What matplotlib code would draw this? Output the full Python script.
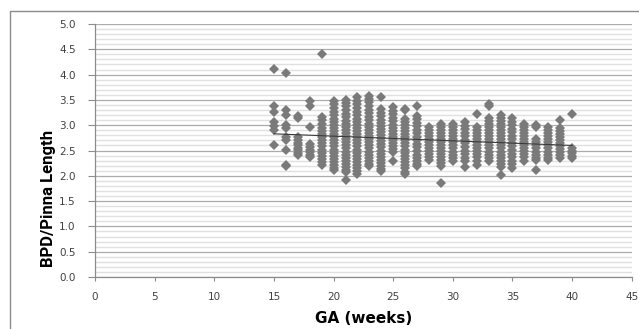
import matplotlib
matplotlib.use("Agg")
import matplotlib.pyplot as plt
from matplotlib.patches import Rectangle
from matplotlib.ticker import MultipleLocator, FormatStrFormatter

# BPD/Pinna length ratio per gestational week
weeks = list(range(15, 41))
ratios = {
    15: [4.12, 3.38, 3.27, 3.07, 2.98, 2.90, 2.61],
    16: [4.04, 3.30, 3.20, 3.00, 2.94, 2.77, 2.71, 2.51, 2.22, 2.20],
    17: [3.18, 3.14, 2.77, 2.71, 2.65, 2.61, 2.55, 2.51, 2.45, 2.41],
    18: [3.48, 3.37, 2.97, 2.62, 2.57, 2.52, 2.47, 2.42, 2.37],
    19: [4.41, 3.17, 3.10, 3.02, 2.95, 2.88, 2.82, 2.76, 2.70, 2.64, 2.58,
         2.52, 2.46, 2.40, 2.34, 2.28, 2.21],
    20: [3.47, 3.41, 3.34, 3.27, 3.20, 3.13, 3.06, 3.00, 2.94, 2.88, 2.82,
         2.76, 2.70, 2.64, 2.58, 2.52, 2.46, 2.40, 2.34, 2.28, 2.22, 2.16, 2.11],
    21: [3.50, 3.44, 3.37, 3.30, 3.23, 3.16, 3.09, 3.02, 2.96, 2.90, 2.84,
         2.78, 2.72, 2.66, 2.60, 2.54, 2.48, 2.42, 2.36, 2.30, 2.24, 2.18,
         2.12, 2.08, 1.92],
    22: [3.55, 3.48, 3.41, 3.34, 3.27, 3.20, 3.13, 3.06, 3.00, 2.94, 2.88,
         2.82, 2.76, 2.70, 2.64, 2.58, 2.52, 2.46, 2.40, 2.34, 2.28, 2.22,
         2.16, 2.10, 2.04],
    23: [3.58, 3.52, 3.45, 3.38, 3.31, 3.24, 3.17, 3.10, 3.03, 2.96, 2.90,
         2.84, 2.78, 2.72, 2.66, 2.60, 2.54, 2.48, 2.42, 2.36, 2.30, 2.24, 2.19],
    24: [3.56, 3.32, 3.25, 3.18, 3.11, 3.04, 2.98, 2.92, 2.86, 2.80, 2.74,
         2.68, 2.62, 2.56, 2.50, 2.44, 2.38, 2.32, 2.26, 2.20, 2.14, 2.09],
    25: [3.36, 3.29, 3.22, 3.15, 3.08, 3.01, 2.95, 2.89, 2.83, 2.77, 2.71,
         2.65, 2.59, 2.53, 2.47, 2.29],
    26: [3.33, 3.30, 3.12, 3.06, 3.00, 2.94, 2.88, 2.82, 2.76, 2.70, 2.64,
         2.58, 2.52, 2.46, 2.40, 2.34, 2.28, 2.22, 2.16, 2.08, 2.03],
    27: [3.38, 3.19, 3.13, 3.05, 2.98, 2.91, 2.84, 2.77, 2.70, 2.63, 2.56,
         2.49, 2.42, 2.36, 2.30, 2.24, 2.19],
    28: [2.97, 2.91, 2.85, 2.79, 2.73, 2.67, 2.61, 2.55, 2.49, 2.43, 2.37, 2.31],
    29: [3.03, 2.97, 2.91, 2.85, 2.79, 2.73, 2.67, 2.61, 2.55, 2.49, 2.43,
         2.37, 2.31, 2.25, 2.19, 1.85],
    30: [3.02, 2.96, 2.90, 2.84, 2.78, 2.72, 2.66, 2.60, 2.54, 2.48, 2.42,
         2.36, 2.30],
    31: [3.06, 2.99, 2.92, 2.85, 2.78, 2.71, 2.64, 2.57, 2.50, 2.43, 2.36,
         2.29, 2.17],
    32: [3.23, 2.97, 2.91, 2.85, 2.79, 2.73, 2.67, 2.61, 2.55, 2.49, 2.43,
         2.37, 2.30, 2.21],
    33: [3.42, 3.38, 3.14, 3.08, 3.02, 2.96, 2.90, 2.84, 2.78, 2.72, 2.66,
         2.60, 2.54, 2.48, 2.42, 2.36, 2.29],
    34: [3.20, 3.14, 3.08, 3.02, 2.96, 2.90, 2.84, 2.78, 2.72, 2.66, 2.60,
         2.54, 2.48, 2.42, 2.36, 2.30, 2.24, 2.17, 2.02],
    35: [3.14, 3.07, 3.00, 2.93, 2.86, 2.79, 2.72, 2.65, 2.58, 2.51, 2.44,
         2.37, 2.30, 2.23, 2.15],
    36: [3.03, 2.97, 2.91, 2.85, 2.79, 2.73, 2.67, 2.61, 2.55, 2.49, 2.43,
         2.37, 2.30],
    37: [3.00, 2.96, 2.72, 2.66, 2.60, 2.54, 2.48, 2.42, 2.36, 2.31, 2.12],
    38: [2.96, 2.90, 2.84, 2.78, 2.72, 2.66, 2.60, 2.54, 2.48, 2.42, 2.36, 2.32],
    39: [3.10, 2.95, 2.89, 2.83, 2.77, 2.71, 2.65, 2.59, 2.53, 2.47, 2.41, 2.35],
    40: [3.23, 2.55, 2.50, 2.45, 2.40, 2.36],
}

# linear trend line end points
trend_x = [15, 40]
trend_y = [2.83, 2.60]

fig = plt.figure(figsize=(6.39, 3.29), dpi=100)
ax = fig.add_axes([0.1487, 0.158, 0.840, 0.769])

# outer chart border (open at right / bottom, as in the crop)
fig.patches.append(Rectangle((10 / 639, -0.05), 1.0, 0.9666 + 0.05,
                             transform=fig.transFigure, fill=False,
                             edgecolor="#8c8c8c", linewidth=1.0))

ax.set_xlim(0, 45)
ax.set_ylim(0, 5.0)
ax.xaxis.set_major_locator(MultipleLocator(5))
ax.yaxis.set_major_locator(MultipleLocator(0.5))
ax.yaxis.set_minor_locator(MultipleLocator(0.1))

ax.grid(axis="y", which="minor", color="#e0e0e0", linewidth=1.0, zorder=0)
ax.grid(axis="y", which="major", color="#ababab", linewidth=0.9, zorder=0)
ax.set_axisbelow(True)

for w in weeks:
    vals = ratios[w]
    ax.plot([w] * len(vals), vals, linestyle="none", marker="D",
            markersize=5.3, color="#7a7a7a", markeredgewidth=0, zorder=3)

ax.plot(trend_x, trend_y, color="#3a3a3a", linewidth=0.8, zorder=4)

for s in ["top", "right"]:
    ax.spines[s].set_visible(False)
for s in ["left", "bottom"]:
    ax.spines[s].set_color("#8c8c8c")
    ax.spines[s].set_linewidth(0.9)

ax.tick_params(axis="y", which="major", length=5, width=0.8, color="#8c8c8c",
               pad=9, labelsize=7.5, labelcolor="#404040")
ax.tick_params(axis="y", which="minor", length=0)
ax.tick_params(axis="x", length=3, width=0.8, color="#8c8c8c",
               pad=8, labelsize=7.5, labelcolor="#404040")
ax.yaxis.set_major_formatter(FormatStrFormatter("%.1f"))

ax.set_xlabel("GA (weeks)", fontsize=11, fontweight="bold", labelpad=6)
ax.set_ylabel("BPD/Pinna Length", fontsize=12, fontweight="bold",
              family="Roboto")
ax.yaxis.set_label_coords(-0.073, 0.312)

fig.savefig("out.png", dpi=100)
